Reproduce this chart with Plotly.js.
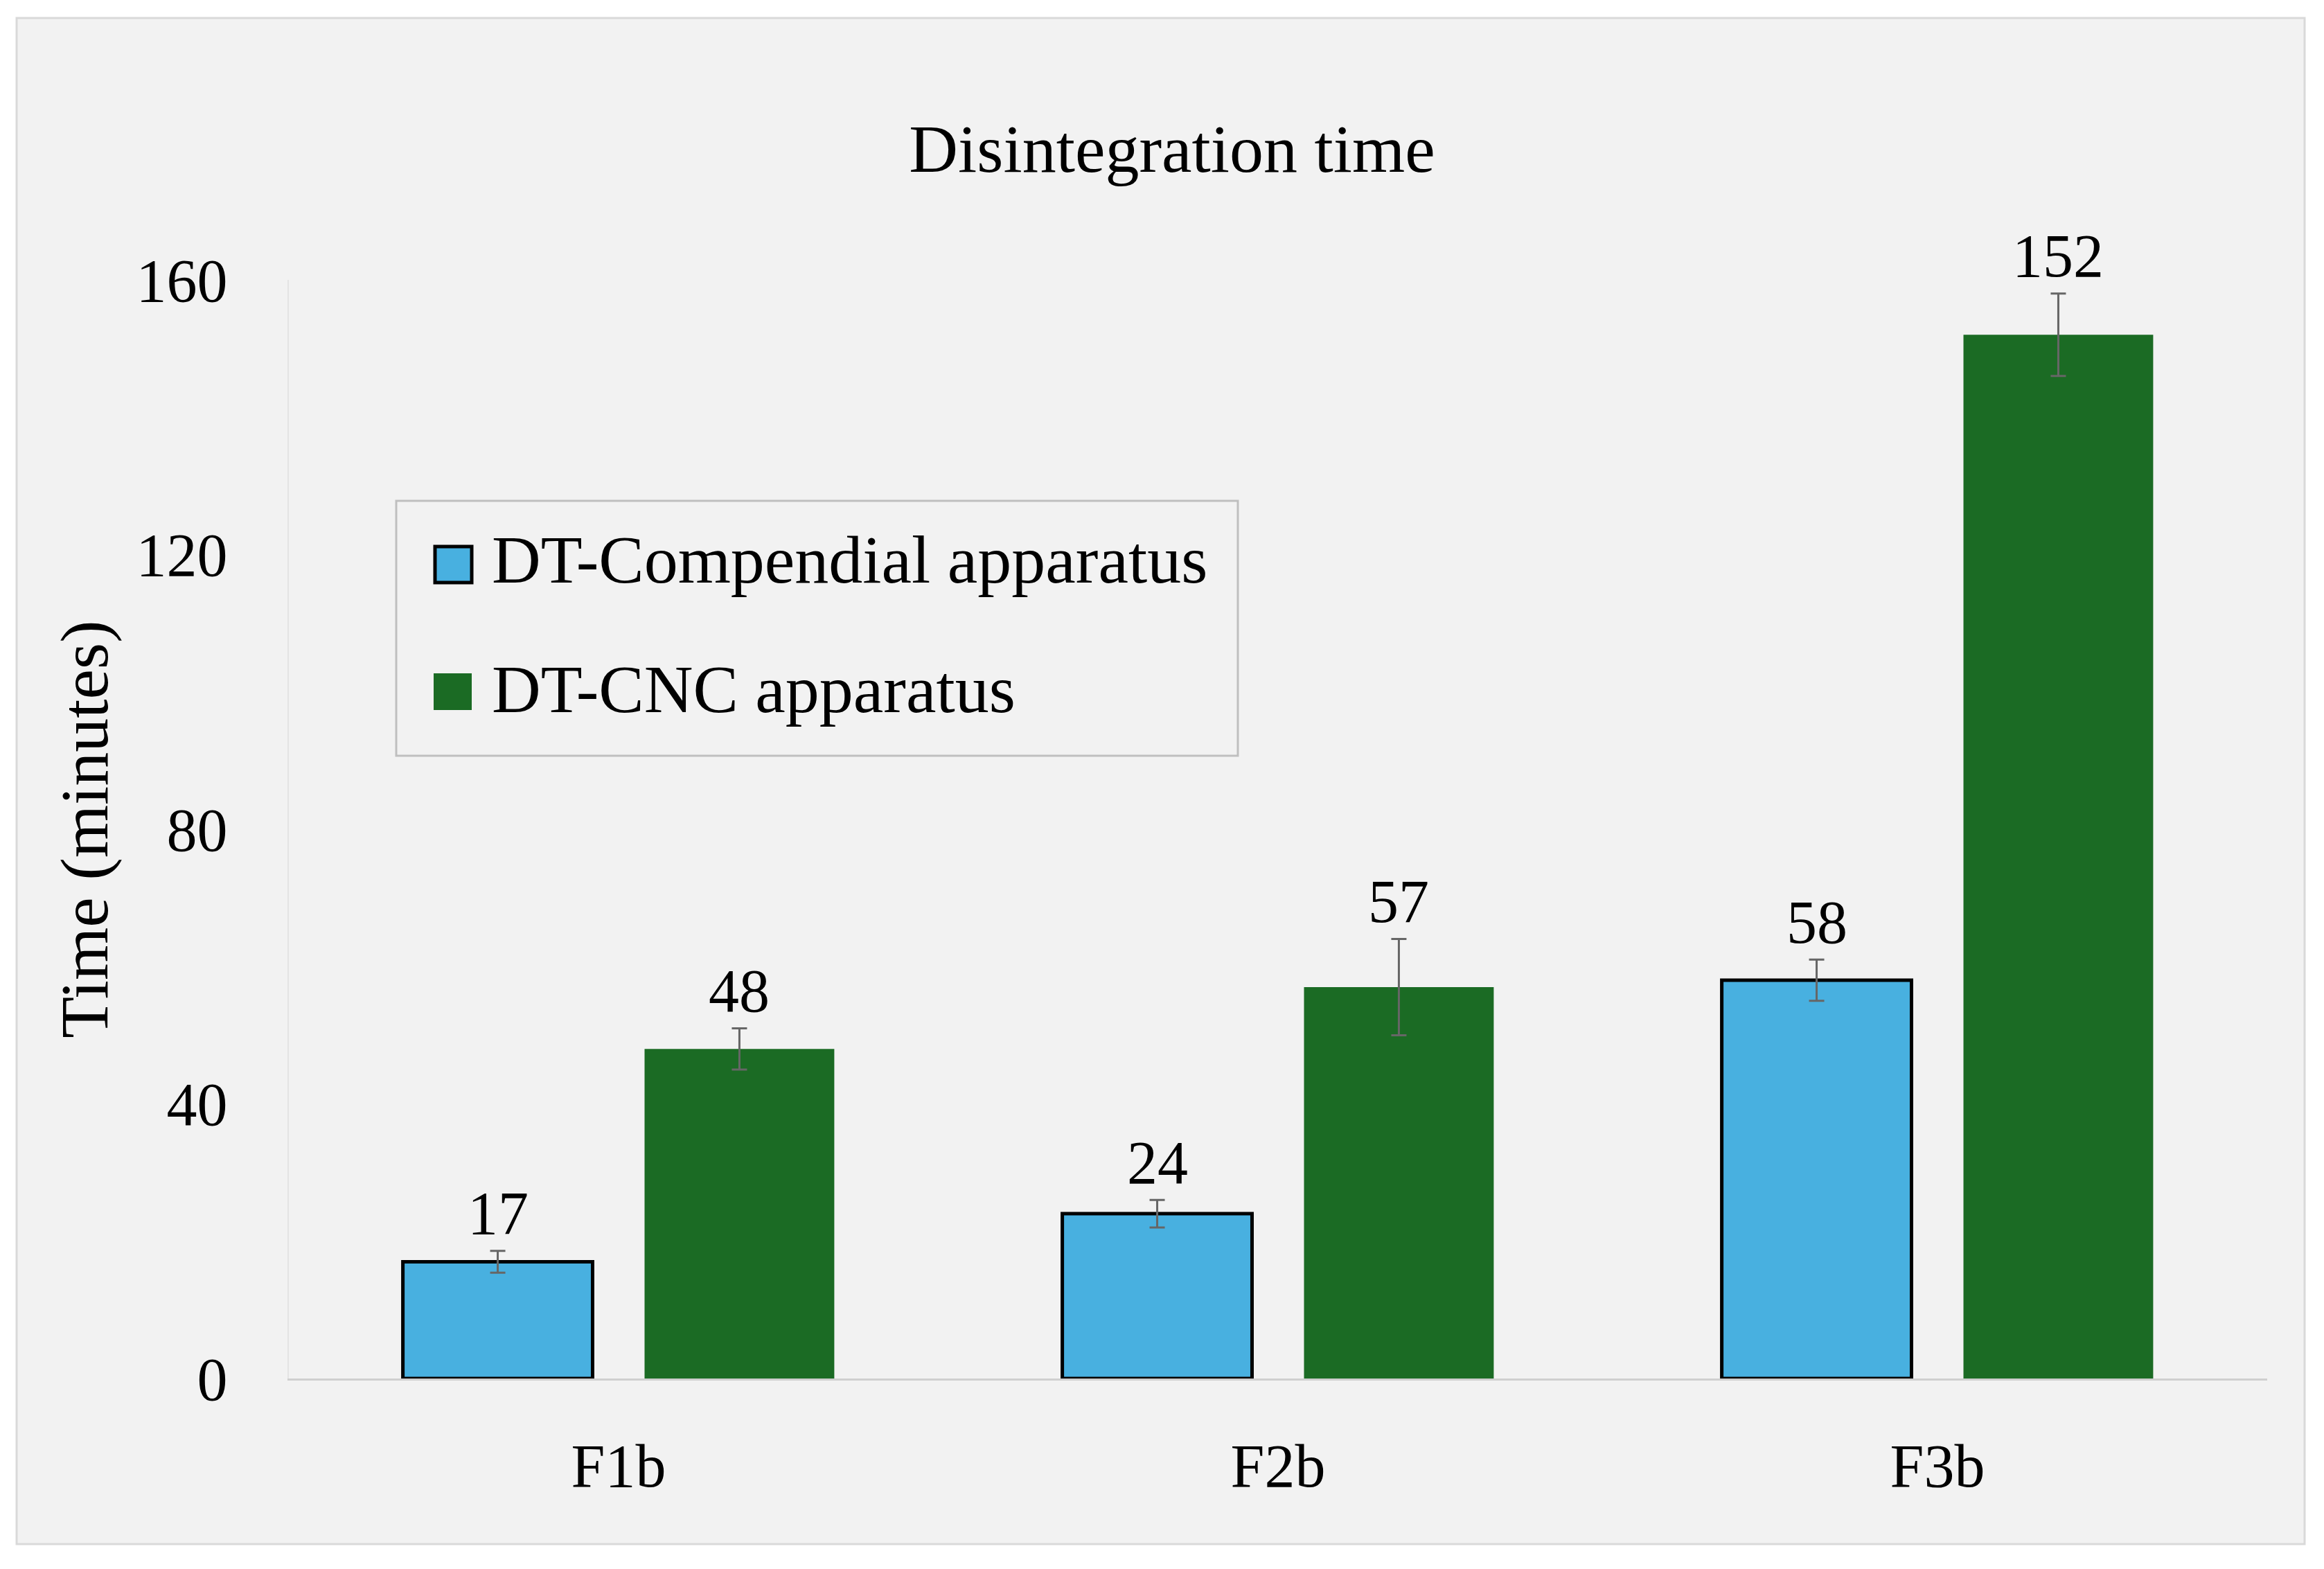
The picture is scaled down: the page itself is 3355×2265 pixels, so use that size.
<!DOCTYPE html>
<html>
<head>
<meta charset="utf-8">
<script src="https://cdn.plot.ly/plotly-3.0.1.min.js"></script>
<style>html,body{margin:0;padding:0;background:#fff;}#chart{width:3355px;height:2265px;}</style>
</head>
<body>
<div id="chart"></div>
<script>
// ---- data ----
const categories = ["F1b", "F2b", "F3b"];
const seriesNames = ["DT-Compendial apparatus", "DT-CNC apparatus"];
const compendialValues = [17, 24, 58];
const compendialErrors = [1.6, 2, 3];
const cncValues = [48, 57, 152];
const cncErrors = [3, 7, 6];
const yTickValues = [0, 40, 80, 120, 160];
const chartTitle = "Disintegration time";
const yAxisTitle = "Time (minutes)";

// ---- style / layout ----
const W = 3355, H = 2265;
const M = {l: 417, r: 82, t: 404, b: 275};
const PW = W - M.l - M.r, PH = H - M.t - M.b;
const px = x => (x - M.l) / PW;       // pixel -> paper x
const py = y => (H - M.b - y) / PH;   // pixel -> paper y
const FONT = "Liberation Serif, Times New Roman, serif";
const colors = ["#48B0E0", "#1B6B24"];
const bargap = 0.267, bargroupgap = 0.215;

const traces = [
  {type: "bar", name: seriesNames[0], x: categories, y: compendialValues,
   marker: {color: colors[0], line: {color: "#000000", width: 5}},
   error_y: {type: "data", array: compendialErrors, visible: true, color: "#666666", thickness: 3, width: 11}},
  {type: "bar", name: seriesNames[1], x: categories, y: cncValues,
   marker: {color: colors[1], line: {width: 0}},
   error_y: {type: "data", array: cncErrors, visible: true, color: "#666666", thickness: 3, width: 11}}
];

const annotations = [];
const slotOffset = (1 - bargap) / 4;
const allVals = [compendialValues, cncValues];
const allErrs = [compendialErrors, cncErrors];
for (let s = 0; s < 2; s++) {
  for (let i = 0; i < categories.length; i++) {
    annotations.push({
      x: i + (s === 0 ? -slotOffset : slotOffset), xref: "x",
      y: allVals[s][i] + allErrs[s][i], yref: "y",
      text: String(allVals[s][i]), showarrow: false,
      yanchor: "middle", xanchor: "center", yshift: 54,
      font: {family: FONT, size: 88, color: "#000"}
    });
  }
}
// legend labels
const legendText = [[708, 808], [708, 995]];
for (let s = 0; s < 2; s++) {
  annotations.push({
    x: px(legendText[s][0]), xref: "paper", y: py(legendText[s][1]), yref: "paper",
    text: seriesNames[s], showarrow: false, xanchor: "left", yanchor: "middle",
    font: {family: FONT, size: 98, color: "#000"}
  });
}

const shapes = [
  // outer chart frame
  {type: "rect", xref: "paper", yref: "paper", layer: "below",
   x0: px(24), x1: px(3327), y0: py(2229), y1: py(26),
   fillcolor: "#F2F2F2", line: {color: "#D9D9D9", width: 3}},
  // legend box
  {type: "rect", xref: "paper", yref: "paper", layer: "above",
   x0: px(572), x1: px(1787), y0: py(1091), y1: py(723),
   fillcolor: "rgba(0,0,0,0)", line: {color: "#BFBFBF", width: 3}},
  // legend swatches
  {type: "rect", xref: "paper", yref: "paper", layer: "above",
   x0: px(628), x1: px(681), y0: py(841), y1: py(789),
   fillcolor: colors[0], line: {color: "#000", width: 5}},
  {type: "rect", xref: "paper", yref: "paper", layer: "above",
   x0: px(626), x1: px(681), y0: py(1025), y1: py(972),
   fillcolor: colors[1], line: {width: 0}}
];

const layout = {
  width: W, height: H,
  margin: M,
  paper_bgcolor: "#FFFFFF",
  plot_bgcolor: "rgba(0,0,0,0)",
  showlegend: false,
  barmode: "group", bargap: bargap, bargroupgap: bargroupgap,
  title: {text: chartTitle, xref: "container", yref: "container",
          x: 1692 / W, y: 1 - 214 / H, xanchor: "center", yanchor: "middle",
          font: {family: FONT, size: 98, color: "#000"}},
  xaxis: {type: "category", showgrid: false, zeroline: false,
          showline: true, linecolor: "#CFCFCF", linewidth: 3,
          ticks: "", ticklabelstandoff: 47,
          tickfont: {family: FONT, size: 88, color: "#000"}},
  yaxis: {range: [0, 160], tickvals: yTickValues, showgrid: false, zeroline: false,
          showline: true, linecolor: "#E4E4E4", linewidth: 2,
          ticks: "", ticklabelstandoff: 69,
          tickfont: {family: FONT, size: 88, color: "#000"},
          title: {text: yAxisTitle, standoff: 8, font: {family: FONT, size: 98, color: "#000"}}},
  annotations: annotations,
  shapes: shapes,
  font: {family: FONT}
};

Plotly.newPlot("chart", traces, layout, {displayModeBar: false, staticPlot: true});
</script>
</body>
</html>
